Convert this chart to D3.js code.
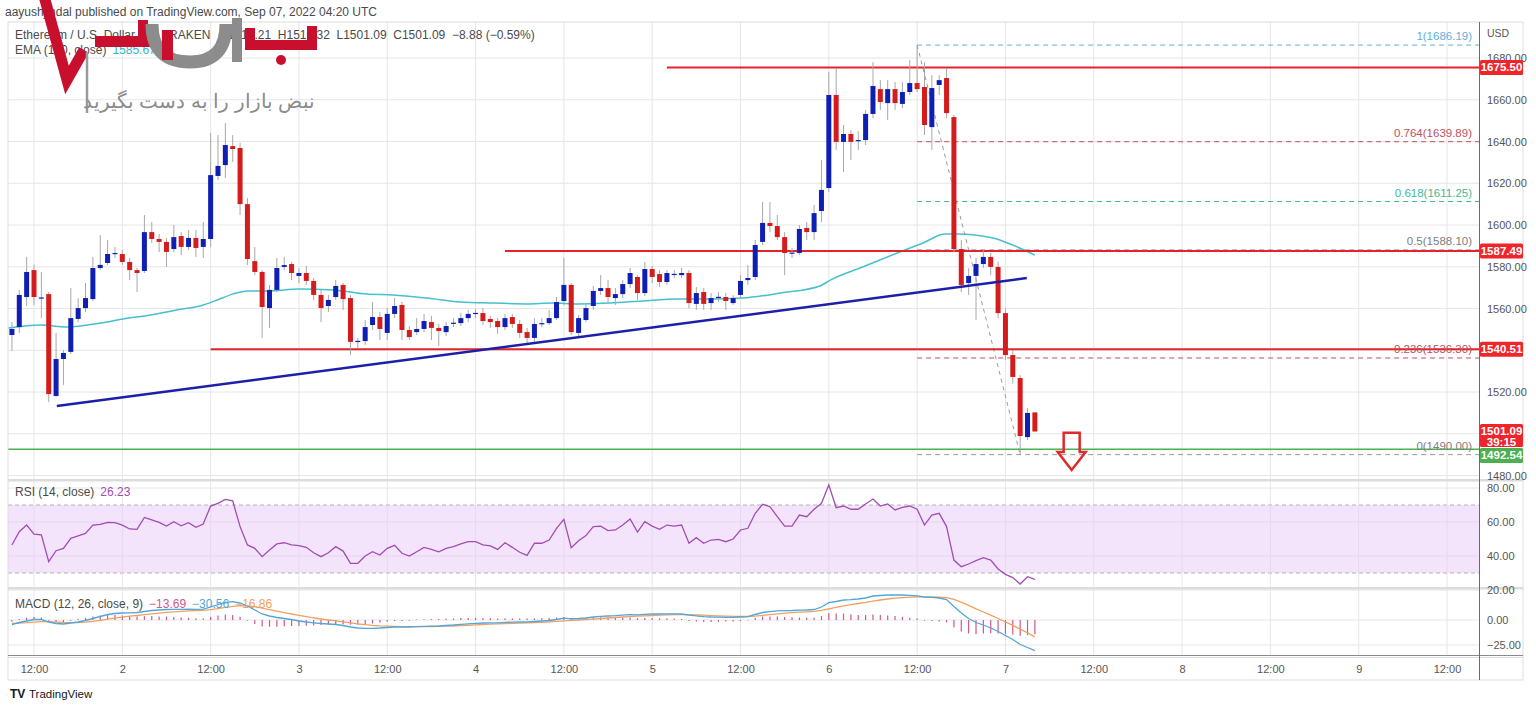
<!DOCTYPE html>
<html>
<head>
<meta charset="utf-8">
<script src="https://cdn.jsdelivr.net/npm/d3@7"></script>
<style>
  body { margin: 0; background: #fff; }
  text { font-family: "Liberation Sans Narrow", "Liberation Sans", sans-serif; }
</style>
</head>
<body>
<svg id="chart" width="1536" height="708"></svg>
<script>
// ETH/USD 1h candles, first one at Sep 01 2022 09:00 UTC
const firstHour = 9; // hours after Sep 01 00:00 UTC

const opens = [
  1547.3,1551.1,1565.5,1578.4,1565.0,1566.9,1518.1,1535.8,1539.2,1555.0,
  1560.2,1564.5,1579.4,1581.8,1586.1,1586.1,1582.3,1578.4,1578.0,1596.6,
  1593.3,1591.9,1588.5,1594.7,1589.5,1593.8,1589.5,1593.3,1623.5,1628.7,
  1637.8,1636.9,1610.0,1582.7,1577.5,1560.2,1568.9,1579.9,1581.3,1575.6,
  1577.0,1573.2,1566.5,1561.2,1565.5,1571.3,1565.0,1544.0,1544.4,1552.1,
  1555.9,1548.3,1557.4,1561.7,1549.7,1548.7,1550.2,1553.5,1550.7,1548.7,
  1553.0,1553.0,1555.4,1557.8,1557.8,1555.0,1554.0,1551.1,1555.9,1552.6,
  1548.7,1545.9,1552.6,1553.0,1555.4,1563.6,1571.3,1548.3,1554.5,1561.2,
  1568.4,1569.8,1565.0,1566.9,1571.7,1575.1,1567.4,1578.9,1576.5,1572.7,
  1576.5,1576.0,1577.0,1562.2,1567.9,1562.6,1565.5,1565.5,1562.6,1566.5,
  1573.6,1575.1,1591.9,1601.0,1599.5,1594.2,1586.6,1586.6,1598.6,1596.6,
  1606.7,1617.7,1662.3,1639.8,1643.6,1640.2,1640.7,1653.2,1665.1,1658.4,
  1665.1,1658.0,1663.7,1668.0,1666.1,1646.9,1667.1,1670.4,1651.7,1588.5,
  1572.2,1575.6,1581.3,1584.7,1579.9,1557.8,1537.7,1526.7,1498.4,1510.21
];
const highs = [
  1553.5,1568.9,1584.7,1581.0,1577.5,1567.9,1548.3,1540.1,1569.8,1565.0,
  1572.2,1584.7,1595.2,1592.8,1589.5,1588.0,1584.2,1579.4,1604.8,1601.4,
  1595.7,1593.8,1600.0,1596.6,1597.6,1597.6,1601.4,1644.1,1643.1,1648.9,
  1643.1,1639.3,1612.9,1589.5,1578.4,1571.3,1584.2,1584.7,1582.3,1579.4,
  1580.4,1574.6,1568.9,1566.5,1573.6,1572.2,1566.5,1545.9,1554.5,1563.1,
  1558.3,1560.2,1565.0,1563.1,1551.6,1555.4,1557.4,1556.4,1552.6,1553.5,
  1555.4,1557.8,1559.3,1559.8,1560.2,1556.4,1555.4,1557.4,1557.4,1554.5,
  1550.7,1555.4,1555.4,1559.3,1565.5,1584.2,1572.2,1556.9,1562.6,1570.8,
  1576.0,1573.6,1569.8,1573.6,1579.4,1576.0,1582.3,1580.4,1578.4,1578.4,
  1578.4,1579.4,1578.4,1570.3,1569.8,1567.4,1567.9,1567.4,1566.5,1576.0,
  1580.8,1592.8,1611.0,1611.0,1604.8,1596.6,1589.0,1600.0,1601.4,1609.6,
  1631.1,1673.3,1675.2,1647.9,1645.5,1645.0,1655.1,1678.0,1669.4,1669.4,
  1668.5,1668.5,1679.0,1686.19,1678.0,1671.8,1671.8,1675.2,1652.7,1592.8,
  1579.4,1584.2,1588.0,1586.6,1582.3,1560.0,1540.1,1528.1,1512.3,1510.32
];
const lows = [
  1539.6,1548.3,1561.2,1561.7,1555.4,1515.2,1517.6,1523.4,1538.2,1553.5,
  1558.3,1563.6,1578.4,1580.8,1584.2,1580.8,1573.6,1567.9,1577.0,1591.4,
  1587.0,1579.9,1587.0,1585.6,1588.0,1584.7,1584.2,1589.5,1621.5,1622.5,
  1630.2,1604.8,1580.8,1576.0,1545.9,1550.7,1567.9,1578.4,1573.6,1572.2,
  1571.3,1564.1,1553.5,1558.3,1564.1,1559.3,1537.7,1541.1,1542.5,1549.7,
  1544.9,1544.9,1555.4,1544.9,1544.9,1547.3,1548.7,1544.9,1542.0,1546.8,
  1551.1,1551.6,1553.5,1555.4,1552.1,1550.7,1547.8,1549.7,1550.7,1545.9,
  1542.5,1544.0,1551.1,1552.1,1554.5,1561.7,1547.3,1546.3,1553.5,1559.3,
  1566.5,1563.1,1561.7,1565.0,1569.8,1564.1,1566.0,1572.2,1570.3,1571.3,
  1574.6,1574.6,1560.2,1559.3,1559.3,1559.3,1563.1,1559.3,1561.7,1565.0,
  1571.3,1573.6,1590.4,1596.6,1592.8,1576.0,1584.2,1585.6,1592.8,1592.8,
  1601.4,1615.8,1635.9,1625.4,1631.1,1635.9,1638.3,1651.2,1655.1,1650.3,
  1655.1,1656.0,1662.3,1663.7,1643.1,1635.9,1662.3,1651.2,1587.0,1567.9,
  1566.5,1554.5,1579.4,1576.0,1555.4,1535.3,1524.0,1490.0,1497.0,1501.09
];
const closes = [
  1550.2,1566.5,1577.5,1565.5,1565.3,1519.0,1535.8,1538.7,1555.4,1560.2,
  1565.0,1579.4,1580.9,1586.1,1586.6,1582.3,1578.4,1577.0,1596.6,1593.3,
  1591.9,1587.1,1594.2,1589.5,1593.8,1589.0,1593.3,1623.9,1628.3,1638.3,
  1636.4,1610.0,1583.7,1577.5,1560.7,1568.9,1579.4,1580.8,1577.0,1577.0,
  1573.2,1566.5,1560.2,1564.1,1570.8,1564.5,1544.0,1544.5,1551.1,1555.9,
  1550.2,1557.4,1561.2,1549.7,1546.3,1550.2,1554.0,1550.7,1549.2,1551.6,
  1553.2,1555.4,1557.4,1557.9,1554.0,1553.5,1551.1,1555.4,1552.6,1548.3,
  1545.9,1552.6,1553.0,1555.4,1563.1,1571.3,1548.7,1555.4,1560.2,1568.4,
  1569.8,1565.5,1566.9,1571.7,1577.0,1567.4,1578.9,1575.1,1572.7,1577.0,
  1576.6,1577.0,1562.6,1567.4,1562.2,1565.0,1565.6,1563.6,1565.0,1573.2,
  1574.6,1590.4,1601.0,1599.5,1594.2,1586.6,1586.8,1598.1,1596.6,1605.7,
  1616.8,1662.3,1639.8,1643.6,1639.8,1640.7,1653.2,1666.6,1658.9,1665.1,
  1658.4,1663.7,1668.0,1665.1,1647.9,1665.6,1669.4,1653.6,1588.5,1571.3,
  1575.6,1581.3,1584.7,1579.9,1557.8,1537.7,1527.2,1498.9,1509.97,1501.09
];

// EMA 100: [hour after Sep 01 00:00, price]
const emaPoints = [
  [8.5,1550.7],[12.8,1552.1],[16.5,1551.1],[21,1553],[24.1,1555],[27.8,1556.9],
  [31.4,1559.3],[35,1561.7],[36.9,1564.1],[39,1566.9],[41,1568.4],[43.7,1568.4],
  [48.1,1569.3],[52.6,1568.9],[57.2,1566.9],[60.8,1566.5],[65.4,1565],[69.9,1563.1],
  [74.4,1562.6],[79,1562.2],[82.5,1562.6],[85.8,1562.2],[90.3,1562.6],[94.7,1563.6],
  [99.4,1564.5],[103.8,1564.5],[108.3,1565],[113.4,1567.4],[118.8,1570.8],[120.2,1573.6],
  [124.6,1579.9],[129.3,1586.6],[132.8,1591.4],[135.8,1595.7],[137.4,1595.7],
  [142.3,1593.8],[145,1590.4],[148,1585.6]
];

const rsi = [
  46.5,54.3,58.2,52.9,52.4,36.7,43.1,44.5,50.4,51.8,
  53.3,58.2,58.6,59.8,59.6,58.2,55.9,55.7,62.7,61.2,
  59.8,57.6,60.2,57.8,59.6,56.9,58.8,69.4,71.0,73.3,
  72.4,57.3,46.5,44.5,39.6,43.5,47.1,47.8,46.5,46.1,
  45.1,41.9,39.6,41.9,45.5,42.9,35.7,35.7,40.0,42.5,
  40.6,44.5,46.3,41.6,40.0,42.5,45.1,43.9,42.5,44.5,
  45.5,47.1,48.4,48.4,46.5,45.9,43.9,47.8,45.1,42.2,
  40.4,47.5,47.5,49.4,56.3,61.6,44.9,49.0,52.0,57.3,
  57.6,54.9,55.3,58.2,61.8,54.1,60.2,57.6,55.7,58.2,
  57.6,58.2,47.5,50.8,47.5,49.4,49.8,48.4,50.0,55.3,
  56.3,65.1,70.4,69.0,63.1,57.6,57.6,64.1,63.1,67.5,
  71.0,81.8,68.4,69.4,67.5,67.5,70.6,73.5,69.4,70.6,
  67.1,68.6,69.4,67.5,58.2,64.1,65.1,57.3,37.6,33.7,
  35.3,37.3,39.0,37.6,32.4,29.2,27.3,23.5,27.8,26.23
];

const macd = [
  -4.5,-2.5,-1,0.5,0.5,-2,-3.5,-4,-3,-2,
  -0.5,1.5,3.5,5.5,6.5,7,7.2,7.5,8.5,9.5,
  10,10.5,10.7,10.7,10.8,10.7,10.8,13,15.5,17.5,
  18.3,17,14,10,6,4,2.5,1.5,0.5,-1,
  -2,-2.8,-3.5,-4,-4.5,-5.5,-7,-8,-8.3,-8.3,
  -8,-7.5,-7,-7.2,-7,-6.7,-6.3,-6.2,-6,-5.5,
  -5,-4.3,-3.8,-3.3,-3,-2.8,-2.8,-2.3,-2.2,-2,
  -2,-1.5,-1,-0.5,0.5,1.8,1.2,1.5,2,3,
  3.7,4,4.3,4.8,5.3,5.2,5.7,6,6,6.1,
  6.1,6,4.8,4.2,3.4,3,2.8,2.7,2.7,3,
  3.4,5.5,7.5,8.3,9.2,9.4,9.5,9.8,10,10.5,
  13,17.3,18.5,20,20.4,21,22,24,24.5,25,
  25.2,25,24.7,24.2,23,22.7,22,20.5,13.5,7,
  1.5,-2.5,-5,-8,-11.5,-15.5,-19.5,-24.5,-27.5,-30.56
];
const signal = [
  -3.3,-3.1,-2.7,-2.1,-1.6,-1.7,-2.1,-2.5,-2.6,-2.5,
  -2.1,-1.4,-0.4,0.8,1.9,2.9,3.8,4.5,5.3,6.1,
  6.9,7.6,8.2,8.7,9.1,9.4,9.7,10.4,11.4,12.6,
  13.7,14.3,14.2,13.4,11.9,10.3,8.8,7.3,6,4.6,
  3.3,2.1,1,0,-0.9,-1.8,-2.8,-3.8,-4.7,-5.4,
  -5.9,-6.2,-6.4,-6.6,-6.7,-6.7,-6.6,-6.5,-6.4,-6.2,
  -6,-5.7,-5.3,-4.9,-4.5,-4.2,-3.9,-3.6,-3.3,-3.1,
  -2.9,-2.6,-2.3,-1.9,-1.4,-0.8,-0.4,0,0.4,0.9,
  1.5,2,2.5,3,3.4,3.8,4.2,4.5,4.8,5.1,
  5.3,5.4,5.3,5.1,4.8,4.4,4.1,3.8,3.6,3.5,
  3.5,3.9,4.6,5.3,6.1,6.8,7.3,7.8,8.2,8.7,
  9.6,11.1,12.6,14.1,15.4,16.5,17.6,18.9,20,21,
  21.8,22.4,22.9,23.2,23.2,23.1,22.9,22.4,20.6,17.9,
  14.6,11.2,8,4.8,1.5,-1.9,-5.4,-9.2,-12.9,-16.86
];
const hist = [
  -1.2,0.6,1.7,2.6,2.1,-0.3,-1.4,-1.5,-0.4,0.5,
  1.6,2.9,3.9,4.7,4.6,4.1,3.4,3,3.2,3.4,
  3.1,2.9,2.5,2,1.7,1.3,1.1,2.6,4.1,4.9,
  4.6,2.7,-0.2,-3.4,-5.9,-6.3,-6.3,-5.8,-5.5,-5.6,
  -5.3,-4.9,-4.5,-4,-3.6,-3.7,-4.2,-4.2,-3.6,-2.9,
  -2.1,-1.3,-0.6,-0.6,-0.3,0,0.3,0.3,0.4,0.7,
  1,1.4,1.5,1.6,1.5,1.4,1.1,1.3,1.1,1.1,
  0.9,1.1,1.3,1.4,1.9,2.6,1.6,1.5,1.6,2.1,
  2.2,2,1.8,1.8,1.9,1.4,1.5,1.5,1.2,1,
  0.8,0.6,-0.5,-0.9,-1.4,-1.4,-1.3,-1.1,-0.9,-0.5,
  -0.1,1.6,2.9,3,3.1,2.6,2.2,2,1.8,1.8,
  3.4,6.2,5.9,5.9,5,4.5,4.4,5.1,4.5,4,
  3.4,2.6,1.8,1,-0.2,-0.4,-0.9,-1.9,-7.1,-10.9,
  -13.1,-13.7,-13,-12.8,-13,-13.6,-14.1,-15.3,-14.6,-13.69
];

const priceGrid = [1480,1500,1520,1540,1560,1580,1600,1620,1640,1660,1680];
const priceLabels = [1480,1520,1560,1580,1600,1620,1640,1660,1680]; // 1500 and 1540 sit under the tags
const rsiTicks = [80,60,40,20];
const macdTicks = [0,-25];

// drawn horizontal levels and the hour where each begins
const levelPrices = [1675.50, 1587.49, 1540.51];
const levelStartHours = [98, 76, 36];
const supportPrice = 1492.54;

// fib retracement (drawn from the high at hour 132 to the low at hour 146)
const fibRatios = ["1", "0.764", "0.618", "0.5", "0.236", "0"];
const fibPrices = [1686.19, 1639.89, 1611.25, 1588.10, 1536.30, 1490.00];
const fibHours = [132, 146];

// rising trend line
const trendHours = [15.1, 146.9];
const trendPrices = [1513.3, 1574.6];

const arrowHour = 153;
const arrowPrices = [1500.5, 1491.3, 1482.6];

// ---------------------------------------------------------------
const svg = d3.select("#chart");
const W = 1536, H = 708;
const L = 8, R = 1479, AX = 1523;
const P = { top: 22, bottom: 479 }, RS = { top: 481, bottom: 587 }, MC = { top: 590, bottom: 655 };

const hourToDate = h => new Date(Date.UTC(2022, 8, 1) + h * 3600e3);
const x = d3.scaleUtc().domain([hourToDate(12), hourToDate(204)]).range([34, 1447]);
const yP = d3.scaleLinear().domain([1480, 1680]).range([475.5, 58]);
const yR = d3.scaleLinear().domain([30, 70]).range([573, 505]);
const yM = d3.scaleLinear().domain([-25, 0]).range([645, 620]);

const candles = closes.map((c, i) => ({
  t: hourToDate(firstHour + i), o: opens[i], h: highs[i], l: lows[i], c: c
}));

svg.append("rect").attr("width", W).attr("height", H).attr("fill", "#fff");

const defs = svg.append("defs");
[["clipP", P], ["clipR", RS], ["clipM", MC]].forEach(([id, p]) => {
  defs.append("clipPath").attr("id", id).append("rect")
    .attr("x", L).attr("y", p.top).attr("width", R - L).attr("height", p.bottom - p.top);
});

// grid
const grid = svg.append("g").attr("stroke", "#e6e6e6").attr("stroke-width", 1);
const timeTicks = d3.range(12, 205, 12).map(hourToDate);
timeTicks.forEach(d => {
  grid.append("line").attr("x1", x(d)).attr("x2", x(d)).attr("y1", P.top).attr("y2", MC.bottom);
});
priceGrid.forEach(p => grid.append("line").attr("x1", L).attr("x2", R).attr("y1", yP(p)).attr("y2", yP(p)));
rsiTicks.forEach(v => grid.append("line").attr("x1", L).attr("x2", R).attr("y1", yR(v)).attr("y2", yR(v)));
macdTicks.forEach(v => grid.append("line").attr("x1", L).attr("x2", R).attr("y1", yM(v)).attr("y2", yM(v)));

// ---------- price panel
const pg = svg.append("g").attr("clip-path", "url(#clipP)");

// EMA 100
pg.append("path")
  .datum(emaPoints)
  .attr("fill", "none").attr("stroke", "#45c0cf").attr("stroke-width", 1.5)
  .attr("d", d3.line().curve(d3.curveMonotoneX).x(d => x(hourToDate(d[0]))).y(d => yP(d[1])));

// fib dashed levels
const fibColors = ["#5fb0dc", "#c0505a", "#3fb896", "#9a9a9a", "#c0505a", "#9a9a9a"];
const fibX1 = x(hourToDate(fibHours[0]));
fibPrices.forEach((p, i) => {
  pg.append("line").attr("x1", fibX1).attr("x2", R).attr("y1", yP(p)).attr("y2", yP(p))
    .attr("stroke", fibColors[i]).attr("stroke-width", 1).attr("stroke-dasharray", "5,4");
});
pg.append("line")
  .attr("x1", fibX1).attr("y1", yP(fibPrices[0]))
  .attr("x2", x(hourToDate(fibHours[1]))).attr("y2", yP(fibPrices[5]))
  .attr("stroke", "#999").attr("stroke-width", 1).attr("stroke-dasharray", "4,4");

// horizontal red levels
levelPrices.forEach((p, i) => {
  pg.append("line").attr("x1", x(hourToDate(levelStartHours[i]))).attr("x2", R)
    .attr("y1", yP(p)).attr("y2", yP(p)).attr("stroke", "#e3242b").attr("stroke-width", 2);
});
pg.append("line").attr("x1", L).attr("x2", R).attr("y1", yP(supportPrice)).attr("y2", yP(supportPrice))
  .attr("stroke", "#4caf50").attr("stroke-width", 1.5);

// candles
const cw = 5;
const cg = pg.append("g");
cg.selectAll("line.wick").data(candles).join("line").attr("class", "wick")
  .attr("x1", d => x(d.t)).attr("x2", d => x(d.t))
  .attr("y1", d => yP(d.h)).attr("y2", d => yP(d.l))
  .attr("stroke", "#a8a8a8").attr("stroke-width", 1);
cg.selectAll("rect.body").data(candles).join("rect").attr("class", "body")
  .attr("x", d => x(d.t) - cw / 2).attr("width", cw)
  .attr("y", d => yP(Math.max(d.o, d.c)))
  .attr("height", d => Math.max(1.2, Math.abs(yP(d.o) - yP(d.c))))
  .attr("fill", d => d.c >= d.o ? "#0f1fb4" : "#d51c1c");

// trend line
pg.append("line")
  .attr("x1", x(hourToDate(trendHours[0]))).attr("y1", yP(trendPrices[0]))
  .attr("x2", x(hourToDate(trendHours[1]))).attr("y2", yP(trendPrices[1]))
  .attr("stroke", "#1d1fa8").attr("stroke-width", 2.5);

// fib labels
fibPrices.forEach((p, i) => {
  pg.append("text").attr("x", 1472).attr("y", yP(p) - 5).attr("text-anchor", "end")
    .attr("font-size", 11.5).attr("fill", i === 3 || i === 5 ? "#808080" : fibColors[i])
    .text(`${fibRatios[i]}(${p.toFixed(2)})`);
});

// down arrow
const ax = x(hourToDate(arrowHour));
const ay = arrowPrices.map(yP);
pg.append("path")
  .attr("d", `M${ax - 8},${ay[0]} L${ax + 8},${ay[0]} L${ax + 8},${ay[1]} L${ax + 14},${ay[1]} L${ax},${ay[2]} L${ax - 14},${ay[1]} L${ax - 8},${ay[1]} Z`)
  .attr("fill", "none").attr("stroke", "#e02a2a").attr("stroke-width", 2.5).attr("stroke-linejoin", "miter");

// ---------- RSI panel
const rg = svg.append("g").attr("clip-path", "url(#clipR)");
rg.append("rect").attr("x", L).attr("width", R - L).attr("y", yR(70)).attr("height", yR(30) - yR(70))
  .attr("fill", "#f3e4fc");
[70, 30].forEach(v => rg.append("line").attr("x1", L).attr("x2", R).attr("y1", yR(v)).attr("y2", yR(v))
  .attr("stroke", "#b4b4b4").attr("stroke-dasharray", "4,3"));
[60, 40].forEach(v => rg.append("line").attr("x1", L).attr("x2", R).attr("y1", yR(v)).attr("y2", yR(v))
  .attr("stroke", "#e4d6ee"));
timeTicks.forEach(d => rg.append("line").attr("x1", x(d)).attr("x2", x(d)).attr("y1", yR(70)).attr("y2", yR(30))
  .attr("stroke", "#e6d8f0"));
rg.append("path").datum(rsi)
  .attr("fill", "none").attr("stroke", "#a24db4").attr("stroke-width", 1.3)
  .attr("d", d3.line().x((d, i) => x(candles[i].t)).y(d => yR(d)));

// ---------- MACD panel
const mg = svg.append("g").attr("clip-path", "url(#clipM)");
mg.selectAll("line.h").data(hist).join("line").attr("class", "h")
  .attr("x1", (d, i) => x(candles[i].t)).attr("x2", (d, i) => x(candles[i].t))
  .attr("y1", yM(0)).attr("y2", d => yM(d) + (d >= 0 ? -0.5 : 0.5))
  .attr("stroke", "#d4558f").attr("stroke-width", 1.2);
mg.append("path").datum(signal)
  .attr("fill", "none").attr("stroke", "#f2a062").attr("stroke-width", 1.3)
  .attr("d", d3.line().x((d, i) => x(candles[i].t)).y(d => yM(d)));
mg.append("path").datum(macd)
  .attr("fill", "none").attr("stroke", "#52a6da").attr("stroke-width", 1.3)
  .attr("d", d3.line().x((d, i) => x(candles[i].t)).y(d => yM(d)));

// ---------- frames
const fr = svg.append("g");
fr.append("rect").attr("x", L).attr("y", P.top).attr("width", AX - L).attr("height", 680 - P.top)
  .attr("fill", "none").attr("stroke", "#dedede");
fr.append("rect").attr("x", L).attr("y", 479).attr("width", AX - L).attr("height", 2.5).attr("fill", "#dcdcdc");
fr.append("rect").attr("x", L).attr("y", 587).attr("width", AX - L).attr("height", 2.5).attr("fill", "#dcdcdc");
fr.append("line").attr("x1", L).attr("x2", AX).attr("y1", 655.5).attr("y2", 655.5).attr("stroke", "#8a8a8a");
fr.append("line").attr("x1", L).attr("x2", AX).attr("y1", 657.5).attr("y2", 657.5).attr("stroke", "#dcdcdc");
fr.append("line").attr("x1", R + 0.5).attr("x2", R + 0.5).attr("y1", P.top).attr("y2", 680).attr("stroke", "#6a6a6a");

// ---------- axes
function styleAxis(g) {
  g.select(".domain").remove();
  g.selectAll("text").attr("font-size", 11).attr("fill", "#555")
    .attr("font-family", '"Liberation Sans Narrow","Liberation Sans",sans-serif');
}
svg.append("g").attr("transform", `translate(${R + 6},0)`)
  .call(d3.axisRight(yP).tickValues(priceLabels).tickFormat(d3.format(".2f")).tickSize(0).tickPadding(2))
  .call(styleAxis);
svg.append("g").attr("transform", `translate(${R + 6},0)`)
  .call(d3.axisRight(yR).tickValues(rsiTicks).tickFormat(d3.format(".2f")).tickSize(0).tickPadding(2))
  .call(styleAxis);
svg.append("g").attr("transform", `translate(${R + 6},0)`)
  .call(d3.axisRight(yM).tickValues(macdTicks).tickFormat(d => d3.format(".2f")(d).replace("-", "\u2212")).tickSize(0).tickPadding(2))
  .call(styleAxis);
svg.append("g").attr("transform", `translate(0,${659})`)
  .call(d3.axisBottom(x).tickValues(timeTicks)
    .tickFormat(d => d.getUTCHours() === 0 ? String(d.getUTCDate()) : "12:00").tickSize(0).tickPadding(6))
  .call(styleAxis);
svg.append("text").attr("x", R + 8).attr("y", 37).attr("font-size", 10.5).attr("fill", "#555").text("USD");

// price tags on the axis
function tag(yc, lines, fill) {
  const h = lines.length > 1 ? 23 : 15;
  const g = svg.append("g");
  g.append("rect").attr("x", R + 1).attr("y", yc - 7.5).attr("width", 43).attr("height", h)
    .attr("rx", 1.5).attr("fill", fill);
  lines.forEach((s, k) => g.append("text").attr("x", R + 22.5).attr("y", yc + 4 + k * 11)
    .attr("text-anchor", "middle").attr("font-size", 11.5).attr("font-weight", "bold")
    .attr("fill", "#fff").text(s));
  return yc - 7.5 + h;
}
levelPrices.forEach(p => tag(yP(p), [p.toFixed(2)], "#f0242b"));
const lastBottom = tag(yP(closes[closes.length - 1]), [closes[closes.length - 1].toFixed(2), "39:15"], "#f0242b");
tag(Math.max(yP(supportPrice), lastBottom + 8.5), [supportPrice.toFixed(2)], "#4caf50");

// ---------- texts
svg.append("text").attr("x", 5).attr("y", 16).attr("font-size", 12).attr("fill", "#4a4a4a")
  .text("aayushjindal published on TradingView.com, Sep 07, 2022 04:20 UTC");
const hdr = svg.append("text").attr("x", 15).attr("y", 39).attr("font-size", 12).attr("fill", "#4a4a4a");
hdr.append("tspan").text("Ethereum / U.S. Dollar, 1h, KRAKEN");
hdr.append("tspan").attr("dx", 8).text("O1510.21  H1510.32  L1501.09  C1501.09  \u22128.88 (\u22120.59%)")
  .attr("xml:space", "preserve");
const ema = svg.append("text").attr("x", 15).attr("y", 54).attr("font-size", 12).attr("fill", "#4a4a4a");
ema.append("tspan").text("EMA (100, close)");
ema.append("tspan").attr("dx", 6).attr("fill", "#37b6c8").text("1585.67");

const rt = svg.append("text").attr("x", 15).attr("y", 496).attr("font-size", 12).attr("fill", "#4a4a4a");
rt.append("tspan").text("RSI (14, close)");
rt.append("tspan").attr("dx", 6).attr("fill", "#a24db4").text(String(rsi[rsi.length - 1]));
const fmt = v => d3.format(".2f")(v).replace("-", "\u2212");
const mt = svg.append("text").attr("x", 15).attr("y", 608).attr("font-size", 12).attr("fill", "#4a4a4a");
mt.append("tspan").text("MACD (12, 26, close, 9)");
mt.append("tspan").attr("dx", 6).attr("fill", "#d4558f").text(fmt(hist[hist.length - 1]));
mt.append("tspan").attr("dx", 6).attr("fill", "#52a6da").text(fmt(macd[macd.length - 1]));
mt.append("tspan").attr("dx", 6).attr("fill", "#f2a062").text(fmt(signal[signal.length - 1]));

// TradingView footer
const ft = svg.append("g").attr("transform", "translate(10,687)");
ft.append("text").attr("x", 0).attr("y", 11).attr("font-size", 12).attr("font-weight", "bold")
  .attr("font-family", '"DejaVu Sans", sans-serif').attr("fill", "#131722").text("TV");
ft.append("text").attr("x", 19).attr("y", 11).attr("font-size", 11.5).attr("fill", "#131722").text("TradingView");

// ---------- watermark logo
const wm = svg.append("g");
wm.append("path").attr("d", "M44,-4 L67,80 L84,50")
  .attr("fill", "none").attr("stroke", "#c8102e").attr("stroke-width", 11).attr("stroke-linejoin", "miter");
wm.append("line").attr("x1", 87).attr("x2", 87).attr("y1", 52).attr("y2", 113)
  .attr("stroke", "#9a9a9a").attr("stroke-width", 2.5);
wm.append("rect").attr("x", 95).attr("y", 36).attr("width", 56).attr("height", 11).attr("fill", "#c8102e");
wm.append("rect").attr("x", 138).attr("y", 20).attr("width", 10).attr("height", 20).attr("fill", "#c8102e");
wm.append("path").attr("d", "M152,24 Q152,62 190,62 Q226,62 226,24")
  .attr("fill", "none").attr("stroke", "#8c8c8c").attr("stroke-width", 13);
wm.append("rect").attr("x", 162).attr("y", 30).attr("width", 11).attr("height", 30).attr("fill", "#c8102e");
wm.append("rect").attr("x", 232).attr("y", 18).attr("width", 10).attr("height", 44).attr("fill", "#8c8c8c");
wm.append("path").attr("d", "M250,28 L250,45 L312,45 L312,26")
  .attr("fill", "none").attr("stroke", "#c8102e").attr("stroke-width", 10);
wm.append("circle").attr("cx", 281).attr("cy", 60).attr("r", 5).attr("fill", "#c8102e");
wm.append("text").attr("x", 315).attr("y", 108).attr("text-anchor", "start")
  .attr("font-family", '"DejaVu Sans", sans-serif').attr("font-size", 19.5).attr("fill", "#8c8c8c")
  .attr("direction", "rtl").text("نبض بازار را به دست بگیرید");
</script>
</body>
</html>
